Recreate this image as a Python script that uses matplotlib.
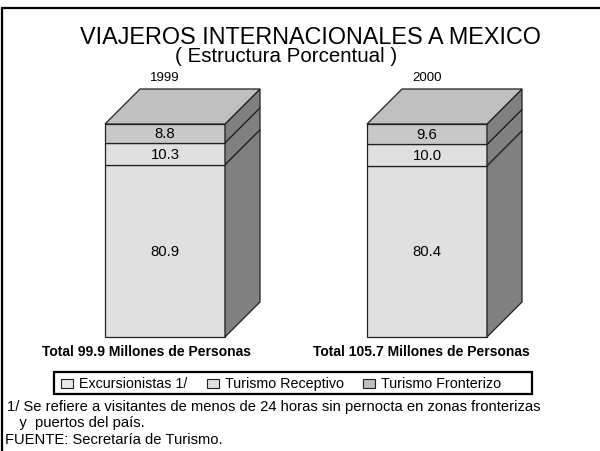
import matplotlib
matplotlib.use('Agg')
import matplotlib.pyplot as plt
from matplotlib.patches import Polygon, Rectangle

plt.rcParams['font.family'] = ['Liberation Sans', 'DejaVu Sans']

######################
# Data
years = ['1999', '2000']
categories = ['Excursionistas 1/', 'Turismo Receptivo', 'Turismo Fronterizo']
excursionistas = [80.9, 80.4]
receptivo = [10.3, 10.0]
fronterizo = [8.8, 9.6]
totals = ['Total 99.9 Millones de Personas', 'Total 105.7 Millones de Personas']

# Styles
front_colors = ['#e0e0e0', '#e0e0e0', '#c8c8c8']
legend_colors = ['#e8e8e8', '#e0e0e0', '#c0c0c0']
top_color = '#c0c0c0'
side_color = '#808080'

# Layout in pixels (y grows downward)
W, H = 600, 452
bar_left = [105, 367]
bar_w = 120
depth = 35
y_base = 338
px_per_pct = 2.13
total_x = [147, 421]

fig = plt.figure(figsize=(W / 100, H / 100), dpi=100)
ax = fig.add_axes([0, 0, 1, 1])
ax.set_xlim(0, W)
ax.set_ylim(H, 0)
ax.axis('off')

# Frame (left and top only)
ax.plot([2, 2], [9, H], color='black', lw=1.6, solid_capstyle='butt')
ax.plot([1.4, W], [9, 9], color='black', lw=1.6, solid_capstyle='butt')

# Titles
ax.text(310, 37, 'VIAJEROS INTERNACIONALES A MEXICO', ha='center', va='center',
        fontsize=16.8)
ax.text(286, 57, '( Estructura Porcentual )', ha='center', va='center',
        fontsize=14.8)

series = [excursionistas, receptivo, fronterizo]
for i, year in enumerate(years):
    x0 = bar_left[i]
    x1 = x0 + bar_w
    yb = y_base
    for k, vals in enumerate(series):
        h = vals[i] * px_per_pct
        yt = yb - h
        ax.add_patch(Rectangle((x0, yt), bar_w, h, facecolor=front_colors[k],
                               edgecolor='#202020', lw=0.9))
        ax.add_patch(Polygon([(x1, yb), (x1 + depth, yb - depth),
                              (x1 + depth, yt - depth), (x1, yt)],
                             closed=True, facecolor=side_color,
                             edgecolor='#202020', lw=0.9))
        ax.text((x0 + x1) / 2, (yb + yt) / 2, '%.1f' % vals[i],
                ha='center', va='center', fontsize=10.7)
        yb = yt
    ax.add_patch(Polygon([(x0, yb), (x0 + depth, yb - depth),
                          (x1 + depth, yb - depth), (x1, yb)],
                         closed=True, facecolor=top_color,
                         edgecolor='#202020', lw=0.9))
    ax.text((x0 + x1) / 2, 78, year, ha='center', va='center',
            fontsize=9.5)
    ax.text(total_x[i], 352, totals[i], ha='center', va='center',
            fontsize=10, fontweight='bold')

# Legend
ax.add_patch(Rectangle((54, 373), 478, 22, facecolor='white',
                       edgecolor='black', lw=1.6))
leg_x = [61, 207, 363]
for k, name in enumerate(categories):
    ax.add_patch(Rectangle((leg_x[k], 380), 12, 9, facecolor=legend_colors[k],
                           edgecolor='#202020', lw=0.8))
    ax.text(leg_x[k] + 18, 384.5, name, ha='left', va='center', fontsize=10.3)

# Notes
ax.text(7, 407, '1/ Se refiere a visitantes de menos de 24 horas sin pernocta '
        'en zonas fronterizas', ha='left', va='center', fontsize=10.6)
ax.text(7, 423, '   y  puertos del país.', ha='left', va='center', fontsize=10.6)
ax.text(5, 440, 'FUENTE: Secretaría de Turismo.', ha='left', va='center',
        fontsize=10.6)

fig.savefig('out.png', dpi=100)
